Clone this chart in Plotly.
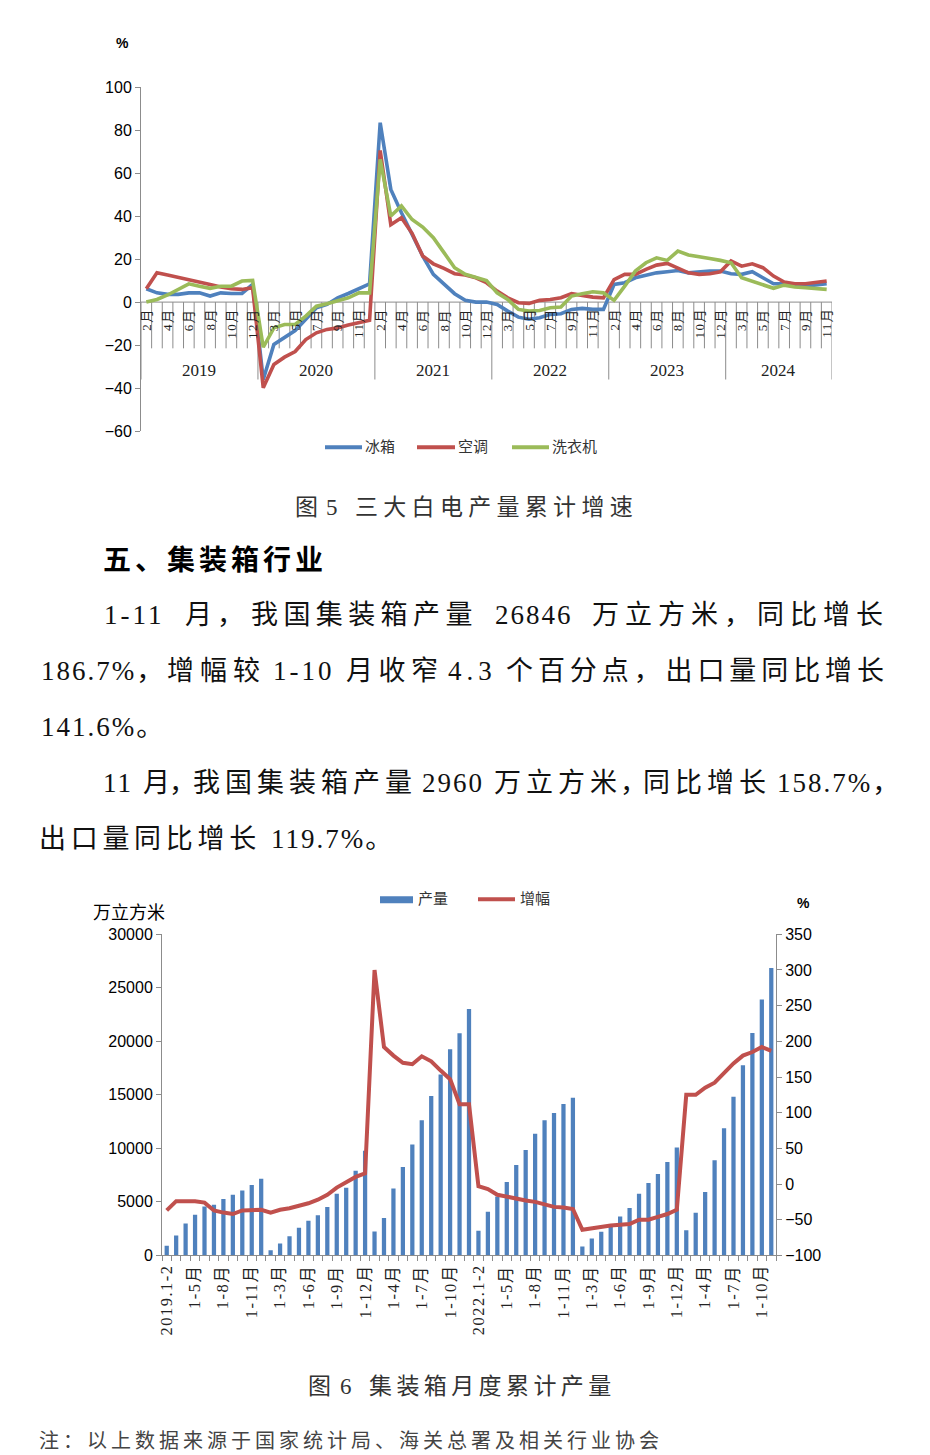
import plotly.graph_objects as go

W, H = 930, 1455
def X(px): return px / W
# the captured page shows a slight vertical compression; map target pixel rows accordingly
def Y(py): return 1 - ((py - 8) / 0.988) / H

GRAY = '#8c8c8c'
SERIF = 'Liberation Serif, Noto Sans CJK SC'
CJK = 'Noto Sans CJK SC'
SANS = 'Liberation Sans, Arial, sans-serif'

# ---------------- Figure 5 data (cumulative growth, %) ----------------
years5 = ['2019', '2020', '2021', '2022', '2023', '2024']
months5 = [list(range(2, 13))] * 5 + [list(range(2, 12))]
fridge = [6.2, 4.3, 3.6, 3.6, 4.3, 4.3, 2.8, 4.3, 4.0, 4.0, 8.2,
          -36, -19.7, -16.6, -13.2, -8, -2.6, -1.1, 2, 4, 6.2, 8.5,
          83.4, 52.4, 41.5, 31.5, 21.4, 12.9, 8.2, 3.9, 0.8, 0, 0,
          -1.1, -4.2, -7, -8, -7.3, -5.7, -5.4, -3.4, -2.9, -3.4, -3.4,
          8.2, 9, 11.3, 12.6, 13.6, 14.1, 14.7, 13.6, 14.1, 14.4, 14.4,
          13.2, 12.9, 14.1, 11.3, 8.5, 8.5, 8.2, 7.4, 7.9, 8.5]
aircon = [6.2, 13.6, 12.6, 11.6, 10.5, 9.5, 8.2, 7.0, 6.2, 5.9, 6.7,
          -39.8, -29, -25.6, -23, -17.4, -14.3, -12.7, -12, -10.7, -9.6, -8.5,
          70.5, 36, 39.2, 32, 21.4, 17.8, 15.7, 13.2, 12.6, 11.3, 9,
          5.1, 2, -0.3, -0.6, 0.8, 1.2, 2, 3.9, 3.1, 2.3, 2,
          10.5, 12.9, 12.9, 15.2, 17.2, 18, 16, 13.6, 12.9, 13.2, 14.1,
          19.1, 16.7, 17.8, 16, 12.1, 9.3, 8.5, 8.5, 9, 9.8]
washer = [0, 1.2, 3.3, 5.9, 8.5, 7.4, 6.4, 7.4, 7.4, 9.8, 10.1,
          -21, -12, -10.4, -10.4, -6.5, -1.9, -0.8, 0.5, 2, 4.3, 4.3,
          66.4, 40, 44.7, 38.4, 34.9, 29.9, 23, 16, 12.9, 11.6, 10,
          4.3, 1.2, -3.4, -4.2, -3.9, -2.6, -2.3, 2.8, 3.9, 4.8, 4.3,
          0.8, 7.4, 14.4, 18.3, 20.6, 19.4, 23.7, 21.9, 20.9, 20.3, 19.4,
          18.3, 11.3, 9.8, 7.9, 6.4, 7.9, 7, 6.7, 6.4, 5.9]

# ---------------- Figure 6 data ----------------
cats6 = []
for yr, last in [('2019', 12), ('2020', 12), ('2021', 12), ('2022', 12), ('2023', 12), ('2024', 11)]:
    cats6.append(yr + '.1-2')
    for m in range(3, last + 1):
        cats6.append('1-%d月' % m)
output6 = [900, 1870, 2990, 3800, 4580, 4740, 5270, 5670, 6075, 6575, 7165,
           470, 1120, 1800, 2590, 3240, 3740, 4520, 5760, 6310, 7920, 9780,
           2240, 3490, 6260, 8250, 10370, 12620, 14890, 16890, 19250, 20750, 23020,
           2300, 4080, 5510, 6850, 8440, 9840, 11370, 12620, 13300, 14140, 14740,
           840, 1590, 2210, 2870, 3640, 4430, 5760, 6760, 7600, 8720, 10090,
           2340, 3990, 5920, 8880, 11870, 14830, 17760, 20780, 23900, 26846]
growth6 = [-37, -24, -24, -24, -26, -37, -40, -42, -37, -36, -36,
           -40, -36, -34, -31, -27, -22, -15, -5, 3, 10, 15,
           300, 192, 180, 170, 168, 179, 172, 159, 147, 112, 112,
           -3, -7, -15, -18, -20, -23, -25, -28, -32, -33, -35,
           -64, -62, -59, -58, -57, -56, -50, -50, -46, -42, -36,
           125, 125, 135, 142, 155, 169, 180, 185, 192, 186.7]

# ---------------- text: each printed line as (segment, left px, letter spacing) ----------------
caption5 = [('图 ', 294, 0), ('5 ', 325, 0), ('三大白电产量累计增速', 354, 5.3)]
heading = '五、集装箱行业'
para_lines = [
    [('1-11 ', 103, 3), ('月，', 185, 5), ('我国集装箱产量 ', 251, 5.4), ('26846 ', 495, 2),
     ('万立方米，同比增长', 592, 6)],
    [('186.7%，', 40, 2), ('增幅较 ', 166, 6), ('1-10 ', 272, 3), ('月收窄 ', 345, 5.5), ('4.3 ', 447, 5),
     ('个百分点，出口量同比增长', 505, 4.9)],
    [('141.6%。', 40, 2)],
    [('11 ', 102, 2), ('月', 143, 0), ('，', 169, 0), ('我国集装箱产量 ', 193, 5), ('2960 ', 422, 2),
     ('万立方米', 494, 5), ('，', 620, 0), ('同比增长 ', 643, 5), ('158.7%，', 777, 2)],
    [('出口量同比增长 ', 38, 4.7), ('119.7%。', 270, 2)],
]
para_y = [615, 671, 727, 783, 839]
caption6 = [('图 ', 307, 0), ('6 ', 339, 0), ('集装箱月度累计产量', 368, 4.4)]
footnote = [('注：以上数据来源于国家统计局、海关总署及相关行业协会', 38, 4.0)]

# ---------------- build ----------------
fig = go.Figure()
idx5 = list(range(len(fridge)))
for name, vals, col in [('冰箱', fridge, '#4F81BD'), ('空调', aircon, '#C0504D'), ('洗衣机', washer, '#9BBB59')]:
    fig.add_trace(go.Scatter(x=idx5, y=vals, mode='lines', name=name,
                             line=dict(color=col, width=3.6), xaxis='x', yaxis='y', showlegend=False))

idx6 = list(range(len(cats6)))
fig.add_trace(go.Bar(x=idx6, y=output6, name='产量', marker=dict(color='#4F81BD', line=dict(width=0)),
                     width=0.45, xaxis='x2', yaxis='y2', showlegend=False))
fig.add_trace(go.Scatter(x=idx6, y=growth6, mode='lines', name='增幅',
                         line=dict(color='#C0504D', width=4), xaxis='x2', yaxis='y3', showlegend=False))

shapes = []
annotations = []

def spaced(s, ls):
    return '<span style="letter-spacing:%.2fpx">%s</span>' % (ls, s)

# category separators for figure 5
year_bounds = [0]
for ms in months5:
    year_bounds.append(year_bounds[-1] + len(ms))
for k in range(len(fridge) + 1):
    y1 = -36 if k in year_bounds else -21.5
    shapes.append(dict(type='line', xref='x', yref='y', x0=k - 0.5, x1=k - 0.5, y0=0, y1=y1,
                       line=dict(color=GRAY, width=1), layer='below'))
shapes.append(dict(type='line', xref='x', yref='y', x0=-0.5, x1=len(fridge) - 0.5, y0=0, y1=0,
                   line=dict(color=GRAY, width=1), layer='below'))

month_flat = [m for ms in months5 for m in ms]
for i, m in enumerate(month_flat):
    if i % 2 == 0:
        annotations.append(dict(x=i, y=-1.8, xref='x', yref='y', text=spaced('%d月' % m, 1.5), textangle=-90,
                                xanchor='center', yanchor='top', showarrow=False,
                                font=dict(family=SERIF, size=13, color='#222')))
for j, yr in enumerate(years5):
    c = (year_bounds[j] + year_bounds[j + 1] - 1) / 2
    annotations.append(dict(x=c, y=-31.6, xref='x', yref='y', text=yr, showarrow=False,
                            xanchor='center', yanchor='middle', font=dict(family=SERIF, size=17, color='#222')))

annotations.append(dict(x=X(122), y=Y(43), xref='paper', yref='paper', text='<b>%</b>', showarrow=False,
                        xanchor='center', yanchor='middle', font=dict(family=SANS, size=14, color='#000')))

# legend fig 5
for (x0, x1, col, name) in [(325, 362, '#4F81BD', '冰箱'), (417, 455, '#C0504D', '空调'), (512, 549, '#9BBB59', '洗衣机')]:
    shapes.append(dict(type='line', xref='paper', yref='paper', x0=X(x0), x1=X(x1), y0=Y(447), y1=Y(447),
                       line=dict(color=col, width=4)))
    annotations.append(dict(x=X(x1 + 1), y=Y(447), xref='paper', yref='paper', text=name, showarrow=False,
                            xanchor='left', yanchor='middle', font=dict(family=SERIF, size=15, color='#333')))

# fig 6 x labels
for i, c in enumerate(cats6):
    if i % 3 == 0:
        annotations.append(dict(x=i, y=Y(1262), xref='x2', yref='paper', text=spaced(c, 1.5), textangle=-90,
                                xanchor='center', yanchor='top', showarrow=False,
                                font=dict(family=SERIF, size=16.5, color='#222')))
# legend fig 6
shapes.append(dict(type='rect', xref='paper', yref='paper', x0=X(380), x1=X(413), y0=Y(903), y1=Y(896),
                   fillcolor='#4F81BD', line=dict(width=0)))
annotations.append(dict(x=X(416), y=Y(899), xref='paper', yref='paper', text='产量', showarrow=False,
                        xanchor='left', yanchor='middle', font=dict(family=SERIF, size=15, color='#333')))
shapes.append(dict(type='line', xref='paper', yref='paper', x0=X(478), x1=X(515), y0=Y(899), y1=Y(899),
                   line=dict(color='#C0504D', width=4)))
annotations.append(dict(x=X(518), y=Y(899), xref='paper', yref='paper', text='增幅', showarrow=False,
                        xanchor='left', yanchor='middle', font=dict(family=SERIF, size=15, color='#333')))
annotations.append(dict(x=X(91), y=Y(911), xref='paper', yref='paper', text='万立方米', showarrow=False,
                        xanchor='left', yanchor='middle', font=dict(family=CJK, size=18, color='#000')))
annotations.append(dict(x=X(803), y=Y(903), xref='paper', yref='paper', text='<b>%</b>', showarrow=False,
                        xanchor='center', yanchor='middle', font=dict(family=SANS, size=14, color='#000')))

# ---- body text: one annotation per line, per-character letter spacing to hit target positions ----
def char_w(ch, size):
    if ord(ch) > 0x2e80:
        return size
    if ch.isdigit():
        return 0.5 * size
    if ch in ' .':
        return 0.25 * size
    if ch == '-':
        return 0.333 * size
    if ch == '%':
        return 0.833 * size
    return 0.5 * size

def line_html(segs, size):
    xs, chs = [], []
    for text, x0, ls in segs:
        x = x0
        for ch in text:
            chs.append(ch)
            xs.append(x)
            x += char_w(ch, size) + ls
    spans = []
    for i, ch in enumerate(chs):
        ls = (xs[i + 1] - xs[i] - char_w(ch, size)) if i + 1 < len(chs) else 0.0
        ls = round(ls, 2)
        if spans and spans[-1][1] == ls:
            spans[-1][0] += ch
        else:
            spans.append([ch, ls])
    return ''.join(spaced(t, l) for t, l in spans), segs[0][1]

def add_line(segs, y, size, family=SERIF, color='#111'):
    html, x0 = line_html(segs, size)
    annotations.append(dict(x=X(x0 - 1), y=Y(y), xref='paper', yref='paper', text=html, showarrow=False,
                            xanchor='left', yanchor='middle', font=dict(family=family, size=size, color=color)))

add_line(caption5, 507, 23, color='#333')
annotations.append(dict(x=X(101), y=Y(558), xref='paper', yref='paper', text='<b>' + spaced(heading, 4) + '</b>',
                        showarrow=False, xanchor='left', yanchor='middle',
                        font=dict(family=CJK, size=28, color='#000')))
for segs, yy in zip(para_lines, para_y):
    add_line(segs, yy, 27)
add_line(caption6, 1386, 23, color='#333')
add_line(footnote, 1441, 20, color='#444')

axis_common = dict(showgrid=False, zeroline=False, showline=True, linecolor=GRAY, linewidth=1,
                   ticks='outside', ticklen=5, tickcolor=GRAY)
fig.update_layout(
    width=W, height=H, margin=dict(l=0, r=0, t=0, b=0),
    paper_bgcolor='white', plot_bgcolor='rgba(0,0,0,0)',
    xaxis=dict(domain=[X(141), X(832)], range=[-0.5, len(fridge) - 0.5], anchor='y',
               showticklabels=False, showgrid=False, zeroline=False, showline=False, ticks=''),
    yaxis=dict(domain=[Y(431), Y(87)], range=[-60, 100], dtick=20, tick0=0, anchor='x',
               tickfont=dict(family=SANS, size=16, color='#000'), **axis_common),
    xaxis2=dict(domain=[X(162), X(776)], range=[-0.5, len(cats6) - 0.5], anchor='y2',
                tickvals=[k - 0.5 for k in range(len(cats6) + 1)], showticklabels=False, **axis_common),
    yaxis2=dict(domain=[Y(1255), Y(934)], range=[0, 30000], dtick=5000, anchor='x2', tickformat='d',
                tickfont=dict(family=SANS, size=16, color='#000'), **axis_common),
    yaxis3=dict(overlaying='y2', side='right', anchor='x2', range=[-100, 350], dtick=50, tickformat='d',
                tickfont=dict(family=SANS, size=16, color='#000'), **axis_common),
    shapes=shapes, annotations=annotations, bargap=0.5,
)
css_js = ("var s='margin:0;padding:0;overflow:hidden;width:930px;height:1455px;';"
          "document.documentElement.style.cssText=s;document.body.style.cssText=s;")
fig.write_html('out.html', config={'displayModeBar': False}, post_script=css_js)
